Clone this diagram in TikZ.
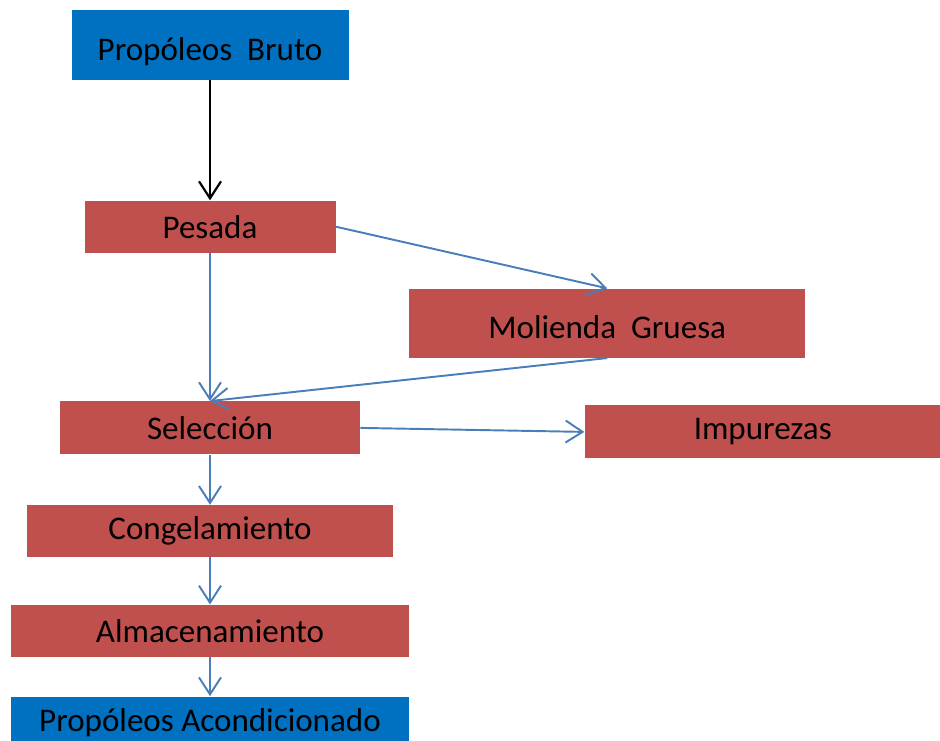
\documentclass[tikz,border=0pt]{standalone}
\usepackage{fontspec}
\setmainfont{Carlito}
\usepackage{tikz}
\usetikzlibrary{positioning,arrows.meta}
\definecolor{officeblue}{RGB}{0,112,192}
\definecolor{officered}{RGB}{192,80,77}
\definecolor{linkblue}{RGB}{74,126,187}

\begin{document}
\begin{tikzpicture}[>={Straight Barb[length=3.4mm,width=4.4mm]},
    stepbox/.style={fill=officered,inner sep=0pt,font=\fontsize{18.8pt}{22pt}\selectfont,minimum height=1.04cm},
    endbox/.style={stepbox,fill=officeblue},
    tall/.style={text height=0.72cm,text depth=0.1cm},
    flow/.style={->,draw=linkblue,line width=1.1pt}]
    \useasboundingbox (0,0) rectangle (18.8,-14.82);
    \node[endbox,tall,minimum width=5.54cm,minimum height=1.4cm] (bruto) at (4.2,-0.9) {Propóleos\ \ Bruto};
    \node[stepbox,minimum width=5.02cm,below=2.4cm of bruto] (pesada) {Pesada};
    \node[stepbox,tall,minimum width=7.92cm,minimum height=1.38cm,below right=1.76cm and 1.46cm of pesada.north east] (molienda) {Molienda\ \ Gruesa};
    \node[stepbox,minimum width=6.0cm,minimum height=1.06cm,below=2.96cm of pesada] (seleccion) {Selección};
    \node[stepbox,minimum width=7.12cm,minimum height=1.06cm,below right=0.08cm and 4.48cm of seleccion.north east] (impurezas) {Impurezas};
    \node[stepbox,minimum width=7.32cm,below=1.0cm of seleccion] (congel) {Congelamiento};
    \node[stepbox,minimum width=7.96cm,below=0.94cm of congel] (almac) {Almacenamiento};
    \node[endbox,minimum width=7.94cm,below=0.78cm of almac] (acond) {Propóleos Acondicionado};
    \draw[->,line width=1.25pt] (bruto)--(pesada);
    \draw[flow] (pesada)--(seleccion);
    \draw[flow] (pesada.east)--(molienda.north);
    \draw[flow] (molienda.south)--(seleccion.north);
    \draw[flow] (seleccion.east)--(impurezas.west);
    \draw[flow] (seleccion)--(congel); \draw[flow] (congel)--(almac); \draw[flow] (almac)--(acond);
  \end{tikzpicture}
\end{document}
